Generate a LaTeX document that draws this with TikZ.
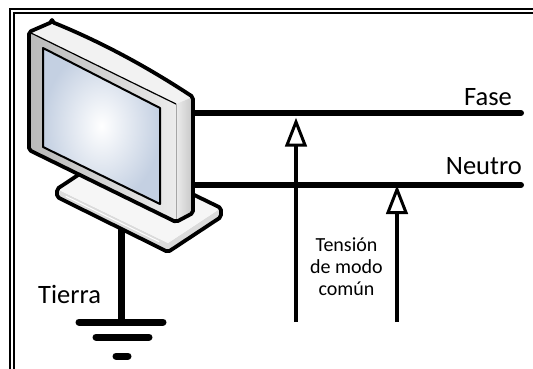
\documentclass[tikz,border=0pt]{standalone}
\usepackage{fontspec}
\setmainfont{Carlito}
\usetikzlibrary{calc}
\begin{document}
\begin{tikzpicture}[x=1pt,y=-1pt,
  frameline/.style={line width=2pt},
  wireline/.style={line width=6pt, line cap=round},
  monline/.style={draw=black, line width=3.8pt, line join=round},
  shaft/.style={line width=3.5pt},
  headtri/.style={draw=black, fill=white, line width=3pt, line join=miter},
  gndline/.style={line width=7pt, line cap=round},
  lbl/.style={font=\fontsize{26.5}{30}\selectfont, inner sep=0pt},
  cmnote/.style={font=\fontsize{20}{22}\selectfont, align=center, inner sep=0pt}]
\useasboundingbox (0,0) rectangle (533,369);

% double frame, cut by the right and bottom edges
\draw[frameline] (533,9) -- (10,9) -- (10,369);
\draw[frameline] (533,13) -- (14,13) -- (14,369);

% wire end points
\coordinate (faseL) at (190,113);
\coordinate (faseR) at (521,113);
\coordinate (neuL) at (190,185);
\coordinate (neuR) at (521,185);
\draw[wireline] (faseL) -- (faseR);
\draw[wireline] (neuL) -- (neuR);

% ground
\coordinate (gtop) at (121,226);
\coordinate (gbot) at (121,322);
\coordinate (b1l) at (79,322);  \coordinate (b1r) at (163,322);
\coordinate (b2l) at (96,337);  \coordinate (b2r) at (149,337);
\coordinate (b3l) at (116,356); \coordinate (b3r) at (128,356);
\draw[line width=7pt] (gtop) -- (gbot);
\draw[gndline] (b1l) -- (b1r);
\draw[gndline] (b2l) -- (b2r);
\draw[gndline] (b3l) -- (b3r);

% stand plate
\coordinate (pL) at (57,189);
\coordinate (pB) at (110,154);
\coordinate (pR) at (221,208);
\coordinate (pF) at (168,243);
\coordinate (pLb) at (57,197);
\coordinate (pFb) at (168,252);
\coordinate (pRb) at (221,217);
\fill[gray!28] (pL) -- (pF) -- (pR) -- (pRb) -- (pFb) -- (pLb) -- cycle;
\fill[gray!7] (pL) -- (pB) -- (pR) -- (pF) -- cycle;
\draw[white, line width=1pt] ($(pL)!0.08!(pF)+(0,3)$) -- ($(pL)!0.92!(pF)+(0,3)$);
\draw[monline, rounded corners=2pt] (pL) -- (pB) -- (pR) -- (pRb) -- (pFb) -- (pLb) -- cycle;

% monitor
\coordinate (m1) at (52,22);
\coordinate (m2) at (29,32);
\coordinate (m3) at (29,150);
\coordinate (m4) at (176,222);
\coordinate (m5) at (193,213);
\coordinate (m6) at (193,97);
\coordinate (mq) at (176,104);
\fill[gray!10] (m1) .. controls (99,41) and (146,66) .. (m6) -- (mq) -- (m2) -- cycle;
\shade[left color=gray!15, right color=gray!45] (mq) -- (m6) -- (m5) -- (m4) -- cycle;
\shade[left color=gray!55, right color=gray!15] (m2) -- (mq) -- (m4) -- (m3) -- cycle;
% screen
\coordinate (s1) at (43,48);
\coordinate (s2) at (160,108);
\coordinate (s3) at (160,204);
\coordinate (s4) at (43,147);
\shade[inner color=white, outer color={rgb,255:red,196;green,208;blue,226}] (s1) -- (s2) -- (s3) -- (s4) -- cycle;
\draw[line width=2pt, line join=round] (s1) -- (s2) -- (s3) -- (s4) -- cycle;
\draw[line width=1.2pt] (m2) -- (mq);
\draw[gray!70, line width=0.8pt] (mq) -- (m4);
\draw[monline, rounded corners=2pt] (m1) -- (m2) -- (m3) -- (m4) -- (m5) -- (m6) .. controls (146,66) and (99,41) .. (m1) -- cycle;

% common-mode voltage probes: shaft up to the base of an open triangular head
\coordinate (a1s) at (296,322);
\coordinate (a1t) at (296,122);
\coordinate (a2s) at (397,322);
\coordinate (a2t) at (397,189.5);
\draw[shaft] (a1s) -- ($(a1t)+(0,23)$);
\draw[headtri] (a1t) -- ++(9,23) -- ++(-18,0) -- cycle;
\draw[shaft] (a2s) -- ($(a2t)+(0,23)$);
\draw[headtri] (a2t) -- ++(9,23) -- ++(-18,0) -- cycle;

% labels
\node[lbl, anchor=base east] (fase) at (512,105) {Fase};
\node[lbl, anchor=base east] (neutro) at (522,174) {Neutro};
\node[lbl, anchor=base west] (tierra) at (38,303) {Tierra};
\node[cmnote] (tension) at (346.5,267) {Tensión\\de modo\\común};
\end{tikzpicture}
\end{document}
